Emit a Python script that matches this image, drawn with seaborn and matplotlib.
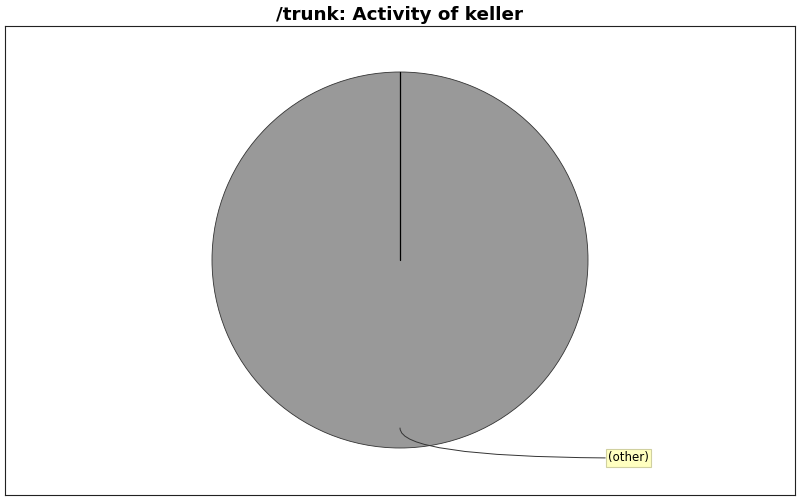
import matplotlib
matplotlib.use("Agg")
import matplotlib.pyplot as plt
import seaborn as sns

# data
labels = ["(other)"]
values = [100.0]
title = "/trunk: Activity of keller"

sns.set_style("white")
plt.rcParams['font.family'] = ['DejaVu Sans']
plt.rcParams['text.color'] = 'black'

fig = plt.figure(figsize=(8, 5), dpi=100)
ax = fig.add_axes([5 / 800, 5 / 500, 790 / 800, 469 / 500])
for s in ax.spines.values():
    s.set_color("#222222")
    s.set_linewidth(0.8)

cx, cy, r = 400, 260, 188
wedges, _ = ax.pie(values, center=(cx, cy), radius=r, startangle=90,
                   colors=["#999999"], frame=True,
                   wedgeprops=dict(edgecolor="#333333", linewidth=0.6))
ax.set_xlim(5, 795)
ax.set_ylim(495, 26)
ax.set_aspect("auto")
ax.set_xticks([])
ax.set_yticks([])

# slice boundary from centre to top
ax.plot([cx, cx], [cy, cy - r], color="black", lw=0.9)

ax.annotate(labels[0], xy=(cx, cy + 168), xytext=(608, 458),
            fontsize=8.5, ha="left", va="center", color="black",
            bbox=dict(boxstyle="square,pad=0.2", fc="#ffffc0", ec="#d0d0a0", lw=0.8),
            arrowprops=dict(arrowstyle="-", color="#333333", lw=0.7,
                            shrinkA=0, shrinkB=0,
                            connectionstyle="angle3,angleA=0,angleB=90"))

fig.text(0.5, 1 - 15 / 500, title, ha="center", va="center",
         fontsize=13.2, fontweight="bold", color="black")

fig.savefig("out.png", dpi=100)
